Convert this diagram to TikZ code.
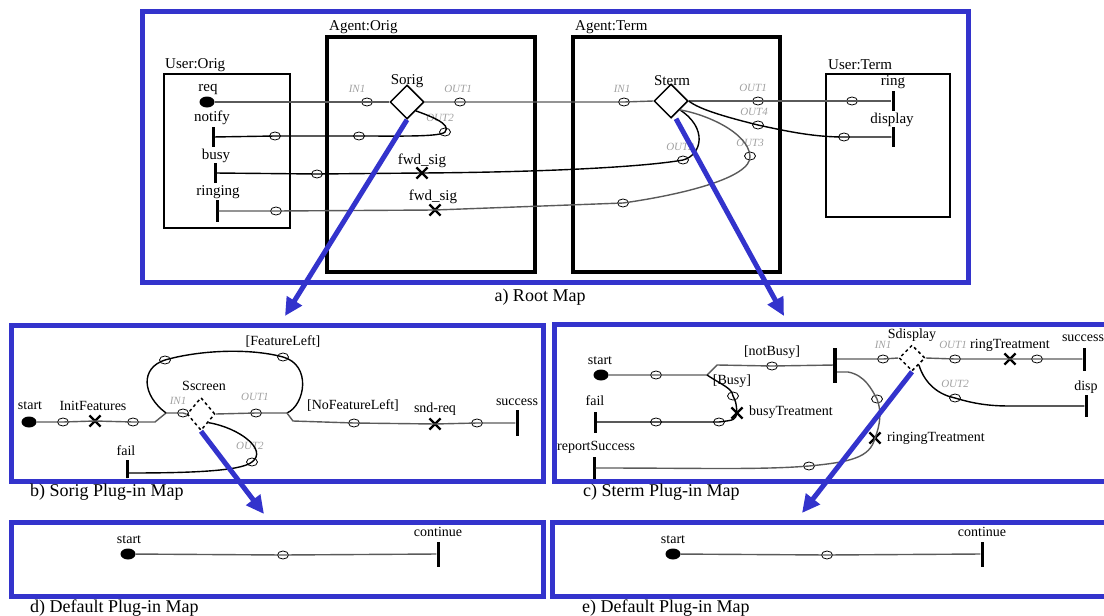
\documentclass[tikz,border=0pt]{standalone}
\usepackage{fontspec}
\setmainfont{Liberation Serif}
\definecolor{ucmblue}{HTML}{3333CC}
\definecolor{ucmgray}{HTML}{5A5A5A}
\definecolor{ucmport}{HTML}{A0A0A0}
\usetikzlibrary{shapes,arrows.meta,positioning,calc}

\tikzset{
  mapbox/.style={draw=ucmblue, line width=5pt},
  agentbox/.style={draw, line width=4pt},
  userbox/.style={draw, line width=1.5pt},
  blackpath/.style={draw, line width=1.4pt},
  graypath/.style={draw=ucmgray, line width=1.4pt},
  startpt/.style={ellipse, fill=black, minimum width=15pt, minimum height=11pt, inner sep=0pt},
  waypt/.style={ellipse, draw, line width=0.8pt, minimum width=11pt, minimum height=8pt, inner sep=0pt},
  resp/.style={cross out, draw, line width=2.2pt, minimum size=9pt, inner sep=0pt},
  endbar/.style={rectangle, fill=black, minimum width=3pt, minimum height=20pt, inner sep=0pt},
  stubbox/.style={diamond, draw, line width=1.5pt, minimum width=34pt, minimum height=34pt, inner sep=0pt},
  dynstub/.style={diamond, draw, dashed, line width=1.5pt, inner sep=0pt},
  lbl/.style={font=\fontsize{15}{17}\selectfont, inner sep=0pt},
  plbl/.style={font=\fontsize{14}{16}\selectfont, inner sep=0pt},
  portlbl/.style={font=\fontsize{11}{13}\selectfont\itshape, text=ucmport, inner sep=0pt},
  mapcaption/.style={font=\fontsize{18}{20}\selectfont, inner sep=0pt},
  plugarrow/.style={draw=ucmblue, line width=5pt, -{Triangle[length=18pt,width=17pt]}},
}

\begin{document}
\begin{tikzpicture}[x=1pt, y=-1pt]
\useasboundingbox (0,0) rectangle (1104,616);

% Root map frame and components
\draw[mapbox] (142,11) rectangle (968,282);
\draw[userbox] (164,74) rectangle (290,228);
\draw[agentbox] (327,37) rectangle (535,272);
\draw[agentbox] (573,37) rectangle (780,272);
\draw[userbox] (826,74) rectangle (950,217);
\node[lbl, anchor=west] (uorig) at (165,65) {User:Orig};
\node[lbl, anchor=west] (aorig) at (329,27) {Agent:Orig};
\node[lbl, anchor=west] (aterm) at (575,27) {Agent:Term};
\node[lbl, anchor=west] (uterm) at (828,65) {User:Term};
\node[mapcaption] (capa) at (540,297) {a) Root Map};

% User:Orig
\node[startpt] (req) at (207,102) {};
\node[endbar] (notify) at (213,137) {};
\node[endbar] (busy) at (215,173) {};
\node[endbar, minimum height=22pt] (ringing) at (217,211) {};
\node[lbl] (lreq) at (208,89) {req};
\node[lbl] (lnotify) at (212,118) {notify};
\node[lbl] (lbusy) at (216,156) {busy};
\node[lbl] (lringing) at (218,192) {ringing};

% Agent:Orig
\node[stubbox] (sorig) at (407,102) {};
\node[waypt] (oin) at (367,102) {};
\node[waypt] (oout1) at (460,102) {};
\node[waypt] (oout2) at (445,132) {};
\node[waypt] (nw1) at (359,136) {};
\node[waypt] (nw2) at (275,136) {};
\node[waypt] (bw1) at (317,174) {};
\node[resp] (fwdb) at (422,173) {};
\node[waypt] (rw1) at (276,211) {};
\node[resp] (fwdr) at (435,210) {};
\node[lbl] (lsorig) at (407,81) {Sorig};
\node[portlbl] (loin) at (357,89) {IN1};
\node[portlbl] (loout1) at (458,89) {OUT1};
\node[portlbl] (loout2) at (440,118) {OUT2};
\node[lbl] (lfwdb) at (422,161) {fwd\_sig};
\node[lbl] (lfwdr) at (433,197) {fwd\_sig};

% Agent:Term
\node[stubbox] (sterm) at (671,101) {};
\node[waypt] (tin) at (624,102) {};
\node[waypt] (tout1) at (758,101) {};
\node[waypt] (tout4) at (758,125) {};
\node[waypt] (tout2) at (683,160) {};
\node[waypt] (tout3) at (750,156) {};
\node[waypt] (rw2) at (623,203) {};
\node[lbl] (lsterm) at (672,81) {Sterm};
\node[portlbl] (ltin) at (622,89) {IN1};
\node[portlbl] (ltout1) at (753,88) {OUT1};
\node[portlbl] (ltout4) at (754,112) {OUT4};
\node[portlbl] (ltout2) at (680,147) {OUT2};
\node[portlbl] (ltout3) at (750,143) {OUT3};

% User:Term
\node[endbar] (ring) at (893,101) {};
\node[endbar] (display) at (893,137) {};
\node[waypt] (uw1) at (852,101) {};
\node[waypt] (uw2) at (844,137) {};
\node[lbl] (lring) at (893,82) {ring};
\node[lbl] (ldisplay) at (892,120) {display};

% Root map paths
\draw[graypath] (req) -- (oin.center) -- (sorig.west);
\draw[graypath] (sorig.east) -- (oout1.center) -- (tin.center) -- (sterm.west);
\draw[blackpath] (sorig.south east) .. controls (430,116) and (452,124) .. (oout2.center)
  .. controls (440,137) and (400,136) .. (nw1.center) -- (nw2.center) -- (notify);
\draw[blackpath] (busy) -- (bw1.center) -- (fwdb.center) .. controls (560,172) and (650,166) .. (tout2.center)
  .. controls (702,155) and (708,128) .. (sterm.south east);
\draw[graypath] (ringing) -- (rw1.center) -- (fwdr.center) -- (rw2.center)
  .. controls (680,195) and (752,178) .. (tout3.center) .. controls (748,132) and (705,114) .. (sterm.south east);
\draw[graypath] (sterm.east) -- (tout1.center) -- (uw1.center) -- (ring);
\draw[blackpath] (sterm.east) .. controls (700,110) and (730,118) .. (tout4.center)
  .. controls (790,132) and (815,137) .. (uw2.center) -- (display);

% b) Sorig plug-in map
\draw[mapbox] (11,325) rectangle (543,481);
\node[mapcaption, anchor=west] (capb) at (30,492) {b) Sorig Plug-in Map};
\node[startpt] (bstart) at (29,422) {};
\node[waypt] (bw1) at (63,422) {};
\node[resp] (binit) at (95,421) {};
\node[waypt] (bw2) at (133,422) {};
\coordinate (bfork1) at (166,413);
\node[dynstub, minimum width=28pt, minimum height=33pt] (sscreen) at (201,414) {};
\node[waypt] (bin) at (183,413) {};
\node[waypt] (bout1) at (256,413) {};
\coordinate (bfork2) at (287,413);
\node[waypt] (bw3) at (165,360) {};
\node[waypt] (bw4) at (283,357) {};
\node[waypt] (bw5) at (354,423) {};
\node[resp] (bsnd) at (435,424) {};
\node[waypt] (bw6) at (477,423) {};
\node[endbar, minimum height=26pt] (bsucc) at (517,423) {};
\node[waypt] (bout2) at (252,462) {};
\node[endbar, minimum height=18pt] (bfail) at (127,469) {};
\node[plbl] (lbstart) at (30,406) {start};
\node[plbl] (lbinit) at (93,406) {InitFeatures};
\node[plbl] (lsscreen) at (204,386) {Sscreen};
\node[portlbl] (lbin) at (178,401) {IN1};
\node[portlbl] (lbout1) at (255,397) {OUT1};
\node[portlbl] (lbout2) at (250,446) {OUT2};
\node[plbl] (lbfl) at (283,342) {[FeatureLeft]};
\node[plbl] (lbnfl) at (353,406) {[NoFeatureLeft]};
\node[plbl] (lbsnd) at (435,409) {snd-req};
\node[plbl] (lbsucc) at (517,402) {success};
\node[plbl] (lbfail) at (126,451) {fail};
\draw[graypath] (bstart) -- (bw1.center) -- (binit.center) -- (bw2.center) -- (155,422) -- (bfork1) -- (bin.center) -- (sscreen.west);
\draw[blackpath] (bfork1) .. controls (142,395) and (140,368) .. (bw3.center)
  .. controls (200,350) and (250,348) .. (bw4.center) .. controls (312,365) and (305,405) .. (bfork2);
\draw[graypath] (sscreen.east) -- (bout1.center) -- (bfork2) -- (293,421) -- (bw5.center) -- (bsnd.center) -- (bw6.center) -- (bsucc);
\draw[blackpath] (sscreen.south east) .. controls (240,428) and (268,450) .. (bout2.center)
  .. controls (240,472) and (180,473) .. (bfail.center |- 0,473) -- (bfail);

% c) Sterm plug-in map
\draw[mapbox] (1104,324) -- (554,324) -- (554,481) -- (1104,481);
\node[mapcaption, anchor=west] (capc) at (583,492) {c) Sterm Plug-in Map};
\node[startpt] (cstart) at (601,375) {};
\node[waypt] (cw1) at (656,375) {};
\coordinate (cfork) at (707,375);
\node[waypt] (cw2) at (772,366) {};
\node[endbar, minimum width=4pt, minimum height=35pt] (cbar) at (835,365) {};
\node[waypt] (cw3) at (733,396) {};
\node[resp] (cbusy) at (737,413) {};
\node[waypt] (cw4) at (719,422) {};
\node[waypt] (cw5) at (656,422) {};
\node[endbar, minimum height=21pt] (cfail) at (595,422) {};
\node[dynstub, minimum width=26pt, minimum height=26pt] (sdisp) at (912,358) {};
\node[waypt] (cin) at (883,359) {};
\node[waypt] (cout1) at (955,359) {};
\node[resp] (cring) at (1010,359) {};
\node[waypt] (cw6) at (1037,359) {};
\node[endbar, minimum height=23pt] (csucc) at (1084,359) {};
\node[waypt] (cout2) at (955,398) {};
\node[endbar, minimum height=22pt] (cdisp) at (1086,406) {};
\node[waypt] (cw7) at (877,399) {};
\node[resp] (cringing) at (875,438) {};
\node[waypt] (cw8) at (809,466) {};
\node[endbar, minimum height=22pt] (creport) at (594,468) {};
\node[plbl] (lcstart) at (600,361) {start};
\node[plbl] (lcnb) at (772,352) {[notBusy]};
\node[plbl] (lcb) at (732,381) {[Busy]};
\node[plbl, anchor=west] (lcbusy) at (749,412) {busyTreatment};
\node[plbl] (lcfail) at (595,401) {fail};
\node[plbl] (lsdisp) at (912,335) {Sdisplay};
\node[portlbl] (lcin) at (883,345) {IN1};
\node[portlbl] (lcout1) at (953,345) {OUT1};
\node[plbl] (lcring) at (1010,345) {ringTreatment};
\node[plbl] (lcsucc) at (1083,338) {success};
\node[portlbl] (lcout2) at (955,384) {OUT2};
\node[plbl] (lcdisp) at (1086,387) {disp};
\node[plbl, anchor=west] (lcringing) at (887,438) {ringingTreatment};
\node[plbl, anchor=west] (lcreport) at (557,447) {reportSuccess};
\draw[graypath] (cstart) -- (cw1.center) -- (cfork) -- (717,365) -- (cw2.center) -- (cbar);
\draw[blackpath] (cfork) .. controls (722,385) and (732,388) .. (cw3.center) .. controls (736,402) .. (cbusy.center)
  .. controls (735,420) .. (cw4.center) -- (cw5.center) -- (cfail);
\draw[graypath] (cbar.east |- cin) -- (cin.center) -- (sdisp.west);
\draw[graypath] (sdisp.east) -- (cout1.center) -- (cring.center) -- (cw6.center) -- (csucc);
\draw[blackpath] (sdisp.south east) .. controls (925,385) and (940,395) .. (cout2.center)
  .. controls (975,404) and (990,406) .. (1010,406) -- (cdisp);
\draw[graypath] ([yshift=-7pt]cbar.east) -- (848,372) .. controls (865,375) and (872,390) .. (cw7.center)
  .. controls (882,412) and (880,425) .. (cringing.center) .. controls (870,458) and (850,462) .. (cw8.center)
  .. controls (760,470) and (700,468) .. (creport);

% d) default plug-in map
\draw[mapbox] (11,522) rectangle (543,596);
\node[mapcaption, anchor=west] (capd) at (30,608) {d) Default Plug-in Map};
\node[startpt] (dstart) at (128,554) {};
\node[waypt] (dw1) at (283,555) {};
\node[endbar, minimum height=25pt] (dcont) at (438,554) {};
\node[plbl] (ldstart) at (129,540) {start};
\node[plbl] (ldcont) at (438,532) {continue};
\draw[graypath] (dstart) -- (dw1.center) -- (dcont);

% e) default plug-in map
\draw[mapbox] (1104,522) -- (552,522) -- (552,596) -- (1104,596);
\node[mapcaption, anchor=west] (cape) at (582,608) {e) Default Plug-in Map};
\node[startpt] (estart) at (673,554) {};
\node[waypt] (ew1) at (827,555) {};
\node[endbar, minimum height=25pt] (econt) at (982,554) {};
\node[plbl] (lestart) at (673,540) {start};
\node[plbl] (lecont) at (982,532) {continue};
\draw[graypath] (estart) -- (ew1.center) -- (econt);

% plug-in bindings
\coordinate (tipb) at (285,316);
\coordinate (tipc) at (784,316);
\coordinate (tipd) at (264,514);
\coordinate (tipe) at (802,513);
\draw[plugarrow] (sorig.south) -- (tipb);
\draw[plugarrow] ([xshift=5pt]sterm.south) -- (tipc);
\draw[plugarrow] (sscreen.south) -- (tipd);
\draw[plugarrow] (sdisp.south) -- (tipe);
\end{tikzpicture}
\end{document}
